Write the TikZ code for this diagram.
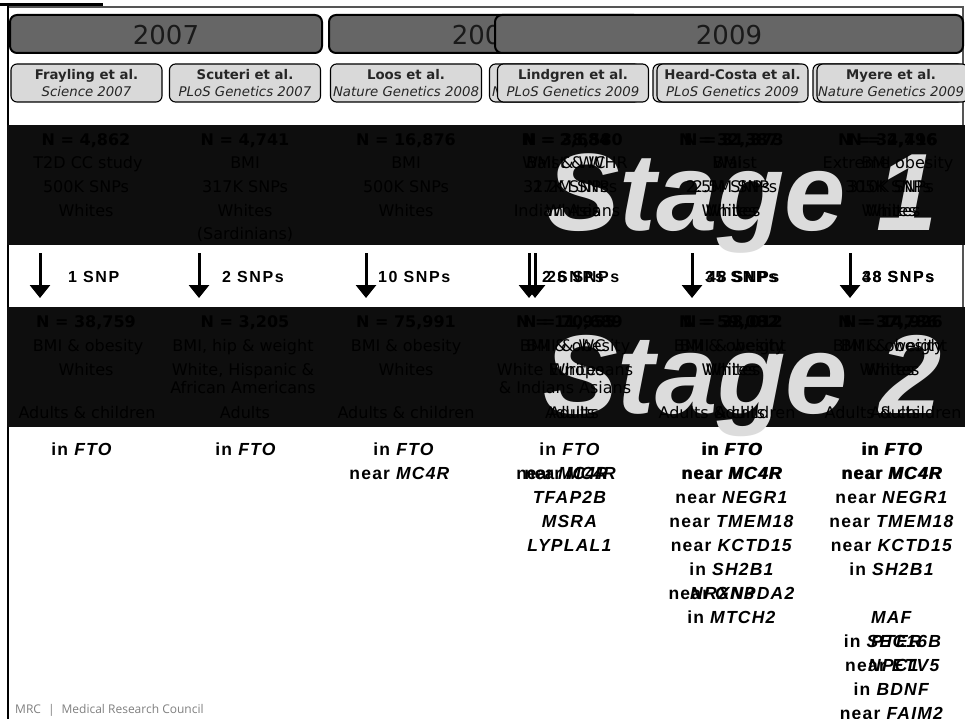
\documentclass[tikz,border=0pt]{standalone}
\usepackage{fontspec}
\setmainfont{DejaVu Sans}
\newfontfamily\arialfont[LetterSpace=10]{Liberation Sans}
\newfontfamily\arialgene[LetterSpace=7]{Liberation Sans}
\newfontfamily\arialplain{Liberation Sans}
\newfontfamily\mrcfont{Open Sans}
\usetikzlibrary{arrows.meta}
\definecolor{yeargray}{HTML}{666666}
\definecolor{boxgray}{HTML}{D9D9D9}
\definecolor{bandblack}{HTML}{0E0E0E}
\definecolor{bandtext}{HTML}{000000}
\definecolor{stagegray}{HTML}{DCDCDC}
\definecolor{yeartext}{HTML}{1A1A1A}
\definecolor{mrcgray}{HTML}{808080}
\definecolor{framegray}{HTML}{555555}
\newcommand\BandSz{\fontsize{16}{19}\selectfont}
\newcommand\GeneSz{\arialgene\bfseries\fontsize{17.5}{20}\selectfont}
\newcommand\GenePlain{\arialplain\bfseries\fontsize{17.5}{20}\selectfont}
\newcommand\SnpSz{\arialfont\bfseries\fontsize{16}{19}\selectfont}
\newcommand\StageSz{\arialplain\bfseries\itshape\fontsize{110}{110}\selectfont}
\newcommand\StageSzB{\arialplain\bfseries\itshape\fontsize{112}{112}\selectfont}
\newcommand\YearSz{\fontsize{26}{30}\selectfont}
\newcommand\PapSz{\fontsize{13.3}{15}\selectfont}
\begin{document}
\begin{tikzpicture}[x=1pt,y=-1pt,
  bt/.style={font=\BandSz, text=bandtext, anchor=base, inner sep=0pt},
  gt/.style={font=\GeneSz, text=black, anchor=base, inner sep=0pt},
  gp/.style={font=\GenePlain, text=black, anchor=base, inner sep=0pt},
  st/.style={font=\SnpSz, text=black, anchor=base west, inner sep=0pt},
  arr/.style={-{Triangle[width=20pt,length=13pt]}, line width=3pt, black},
  yearbar/.style={draw=black, line width=2pt, fill=yeargray, rounded corners=7pt, inner sep=0pt, minimum height=38pt},
  yeartxt/.style={font=\YearSz, text=yeartext, anchor=base, inner sep=0pt},
  paperbox/.style={draw=black, line width=1.1pt, fill=boxgray, rounded corners=6pt, inner sep=0pt, minimum height=38pt, minimum width=151pt},
  ptitle/.style={font=\PapSz\bfseries, anchor=base, inner sep=0pt, text=black!85},
  pjour/.style={font=\PapSz\itshape, anchor=base, inner sep=0pt, text=black!85},
  band/.style={fill=bandblack, inner sep=0pt, outer sep=0pt, minimum width=958pt, minimum height=120pt},
  stagelbl/.style={font=\StageSz, text=stagegray, anchor=base west, inner sep=0pt}
]
\useasboundingbox[fill=white] (0,0) rectangle (965,719);

% frame
\draw[line width=1.5pt, framegray] (7,7) -- (963,7) -- (963,427);
\draw[line width=3pt, black] (0,5) -- (103,5);
\draw[line width=2.5pt, black] (8,5) -- (8,719);

% year bars
\node[yearbar, minimum width=312pt] (y2007) at (166,34) {};
\node[yeartxt] (t2007) at (166,45) {2007};
\node[yearbar, minimum width=312pt] (y2008) at (485,34) {};
\node[yeartxt] (t2008) at (485,45) {2008};
\node[yearbar, minimum width=468pt] (y2009) at (729,34) {};
\node[yeartxt] (t2009) at (729,45) {2009};

% paper boxes
\node[paperbox] (pfray) at (86.5,83) {};
\node[ptitle] (pfrayt) at (86.5,80) {Frayling et al.};
\node[pjour] (pfrayj) at (86.5,97) {Science 2007};
\node[paperbox] (pscut) at (245,83) {};
\node[ptitle] (pscutt) at (245,80) {Scuteri et al.};
\node[pjour] (pscutj) at (245,97) {PLoS Genetics 2007};
\node[paperbox] (ploos) at (406,83) {};
\node[ptitle] (ploost) at (406,80) {Loos et al.};
\node[pjour] (ploosj) at (406,97) {Nature Genetics 2008};
\node[paperbox] (pcham) at (565,83) {};
\node[ptitle] (pchamt) at (565,80) {Chambers et al.};
\node[pjour] (pchamj) at (565,97) {Nature Genetics 2008};
\node[paperbox] (plind) at (573,83) {};
\node[ptitle] (plindt) at (573,80) {Lindgren et al.};
\node[pjour] (plindj) at (573,97) {PLoS Genetics 2009};
\node[paperbox] (pwill) at (728.5,83) {};
\node[paperbox] (pheard) at (732.5,83) {};
\node[ptitle] (pheardt) at (732.5,80) {Heard-Costa et al.};
\node[pjour] (pheardj) at (732.5,97) {PLoS Genetics 2009};
\node[paperbox] (pthor) at (888.5,83) {};
\node[paperbox] (pmyer) at (892.5,83) {};
\node[ptitle] (pmyert) at (891,80) {Myere et al.};
\node[pjour] (pmyerj) at (891,97) {Nature Genetics 2009};

% bands
\node[band] (band1) at (486,185) {};
\node[band] (band2) at (486,366.5) {};
\node[stagelbl] (stage1) at (546,230) {Stage 1};
\node[stagelbl, font=\StageSzB] (stage2) at (543,413) {Stage 2};

% stage 1 texts
\node[bt] (a11) at (86,146) {\bfseries N = 4,862};
\node[bt] (a12) at (88,169) {T2D CC study};
\node[bt] (a13) at (86,193) {500K SNPs};
\node[bt] (a14) at (86,216) {Whites};
\node[bt] (b11) at (245,146) {\bfseries N = 4,741};
\node[bt] (b12) at (245,169) {BMI};
\node[bt] (b13) at (245,193) {317K SNPs};
\node[bt] (b14) at (245,216) {Whites};
\node[bt] (b15) at (245,239) {(Sardinians)};
\node[bt] (c11) at (406,146) {\bfseries N = 16,876};
\node[bt] (c12) at (406,169) {BMI};
\node[bt] (c13) at (406,193) {500K SNPs};
\node[bt] (c14) at (406,216) {Whites};
\node[bt] (d11) at (566,146) {\bfseries N = 2,684};
\node[bt] (d12) at (566,169) {BMI \& WC};
\node[bt] (d13) at (566,193) {317K SNPs};
\node[bt] (d14) at (567,216) {Indian Asians};
\node[bt] (e11) at (573,146) {\bfseries N = 38,580};
\node[bt] (e12) at (575,169) {Waist \& WHR};
\node[bt] (e13) at (575,193) {2.2M SNPs};
\node[bt] (e14) at (573,216) {Whites};
\node[bt] (f11) at (729,146) {\bfseries N = 32,387};
\node[bt] (f12) at (727,169) {BMI};
\node[bt] (f13) at (728,193) {2.5M SNPs};
\node[bt] (f14) at (729,216) {Whites};
\node[bt] (g11) at (734,146) {\bfseries N = 31,373};
\node[bt] (g12) at (735,169) {Waist};
\node[bt] (g13) at (735,193) {2.5M SNPs};
\node[bt] (g14) at (733,216) {Whites};
\node[bt] (h11) at (888,146) {\bfseries N = 34,416};
\node[bt] (h12) at (876,169) {BMI};
\node[bt] (h13) at (888,193) {305K SNPs};
\node[bt] (h14) at (889,216) {Whites};
\node[bt] (i11) at (893,146) {\bfseries N = 2,796};
\node[bt] (i12) at (888,169) {Extreme obesity};
\node[bt] (i13) at (891,193) {310K SNPs};
\node[bt] (i14) at (893,216) {Whites};

% arrows and SNP counts
\coordinate (ar1s) at (40,253);  \coordinate (ar1e) at (40,298);
\coordinate (ar2s) at (199,253); \coordinate (ar2e) at (199,298);
\coordinate (ar3s) at (366,253); \coordinate (ar3e) at (366,298);
\coordinate (ar4s) at (529,253); \coordinate (ar4e) at (529,298);
\coordinate (ar5s) at (535,253); \coordinate (ar5e) at (535,298);
\coordinate (ar6s) at (692,253); \coordinate (ar6e) at (692,298);
\coordinate (ar7s) at (850,253); \coordinate (ar7e) at (850,298);
\draw[arr] (ar1s) -- (ar1e);
\draw[arr] (ar2s) -- (ar2e);
\draw[arr] (ar3s) -- (ar3e);
\draw[arr] (ar4s) -- (ar4e);
\draw[arr] (ar5s) -- (ar5e);
\draw[arr] (ar6s) -- (ar6e);
\draw[arr] (ar7s) -- (ar7e);
\node[st] (s1) at (68,282) {1 SNP};
\node[st] (s2) at (222,282) {2 SNPs};
\node[st] (s3) at (378,282) {10 SNPs};
\node[st] (s4) at (542,282) {2 SNPs};
\node[st] (s5) at (547,282) {26 SNPs};
\node[st] (s6) at (705,282) {35 SNPs};
\node[st] (s7) at (707,282) {48 SNPs};
\node[st] (s8) at (862,282) {38 SNPs};
\node[st] (s9) at (862,282) {48 SNPs};

% stage 2 texts
\node[bt] (a21) at (86,327) {\bfseries N = 38,759};
\node[bt] (a22) at (88,351) {BMI \& obesity};
\node[bt] (a23) at (86,375) {Whites};
\node[bt] (a25) at (87,418) {Adults \& children};
\node[bt] (b21) at (245,327) {\bfseries N = 3,205};
\node[bt] (b22) at (243,351) {BMI, hip \& weight};
\node[bt] (b23) at (243,375) {White, Hispanic \&};
\node[bt] (b24) at (243,393) {African Americans};
\node[bt] (b25) at (245,418) {Adults};
\node[bt] (c21) at (406,327) {\bfseries N = 75,991};
\node[bt] (c22) at (406,351) {BMI \& obesity};
\node[bt] (c23) at (406,375) {Whites};
\node[bt] (c25) at (406,418) {Adults \& children};
\node[bt] (d21) at (566,327) {\bfseries N = 11,955};
\node[bt] (d22) at (566,351) {BMI \& WC};
\node[bt] (d23) at (565,375) {White Europeans};
\node[bt] (d24) at (565,393) {\& Indians Asians};
\node[bt] (d25) at (570,418) {Adults};
\node[bt] (e21) at (573,327) {\bfseries N = 70,689};
\node[bt] (e22) at (575,351) {BMI \& obesity};
\node[bt] (e23) at (577,375) {Whites};
\node[bt] (e25) at (574,418) {Adults};
\node[bt] (f21) at (729,327) {\bfseries N = 59,082};
\node[bt] (f22) at (729,351) {BMI \& obesity};
\node[bt] (f23) at (729,375) {Whites};
\node[bt] (f25) at (727,418) {Adults \& children};
\node[bt] (g21) at (733,327) {\bfseries N = 38,012};
\node[bt] (g22) at (733,351) {BMI \& weight};
\node[bt] (g23) at (733,375) {Whites};
\node[bt] (g25) at (740,418) {Adults};
\node[bt] (h21) at (888,327) {\bfseries N = 37,786};
\node[bt] (h22) at (888,351) {BMI \& obesity};
\node[bt] (h23) at (887,375) {Whites};
\node[bt] (h25) at (893,418) {Adults \& children};
\node[bt] (i21) at (893,327) {\bfseries N = 14,926};
\node[bt] (i22) at (894,351) {BMI \& weight};
\node[bt] (i23) at (892,375) {Whites};
\node[bt] (i25) at (895,418) {Adults};

% genes
\node[gt] (ga1) at (82,455) {in \textit{FTO}};
\node[gt] (gb1) at (246,455) {in \textit{FTO}};
\node[gt] (gc1) at (404,455) {in \textit{FTO}};
\node[gt] (gc2) at (400,479) {near \textit{MC4R}};
\node[gt] (gd1) at (570,455) {in \textit{FTO}};
\node[gp] (gd2a) at (562,479) {near \textit{MC4R}};
\node[gp] (gd2b) at (570,479) {near \textit{MC4R}};
\node[gt] (gd3) at (570,503) {\textit{TFAP2B}};
\node[gt] (gd4) at (570,527) {\textit{MSRA}};
\node[gt] (gd5) at (570,551) {\textit{LYPLAL1}};
\node[gt] (ge1a) at (732,455) {in \textit{FTO}};
\node[gt] (ge1b) at (733,455) {in \textit{FTO}};
\node[gt] (ge2a) at (732,479) {near \textit{MC4R}};
\node[gt] (ge2b) at (733,479) {near \textit{MC4R}};
\node[gt] (ge3) at (732,503) {near \textit{NEGR1}};
\node[gt] (ge4) at (732,527) {near \textit{TMEM18}};
\node[gt] (ge5) at (732,551) {near \textit{KCTD15}};
\node[gt] (ge6) at (732,575) {in \textit{SH2B1}};
\node[gt] (ge7) at (732,599) {near \textit{GNPDA2}};
\node[gt, anchor=base west] (ge7b) at (690,599) {\textit{NRXN3}};
\node[gt] (ge8) at (732,623) {in \textit{MTCH2}};
\node[gt] (gf1a) at (892,455) {in \textit{FTO}};
\node[gt] (gf1b) at (893,455) {in \textit{FTO}};
\node[gt] (gf2a) at (892,479) {near \textit{MC4R}};
\node[gt] (gf2b) at (893,479) {near \textit{MC4R}};
\node[gt] (gf3) at (892,503) {near \textit{NEGR1}};
\node[gt] (gf4) at (892,527) {near \textit{TMEM18}};
\node[gt] (gf5) at (892,551) {near \textit{KCTD15}};
\node[gt] (gf6) at (892,575) {in \textit{SH2B1}};
\node[gt] (gf8) at (892,623) {\textit{MAF}};
\node[gt] (gf9) at (893,647) {in \textit{SEC16B}};
\node[gt, anchor=base west] (gf9b) at (871,647) {\textit{PTER}};
\node[gt] (gf10) at (893,671) {near \textit{ETV5}};
\node[gt, anchor=base west] (gf10b) at (868,671) {\textit{NPC1}};
\node[gt] (gf11) at (892,695) {in \textit{BDNF}};
\node[gt] (gf12) at (892,719) {near \textit{FAIM2}};

% footer
\node[font=\mrcfont\fontsize{12}{14}\selectfont, text=mrcgray, anchor=base west, inner sep=0pt] (mrc) at (15,713) {MRC\hspace{7pt}|\hspace{7pt}Medical Research Council};
\end{tikzpicture}
\end{document}
